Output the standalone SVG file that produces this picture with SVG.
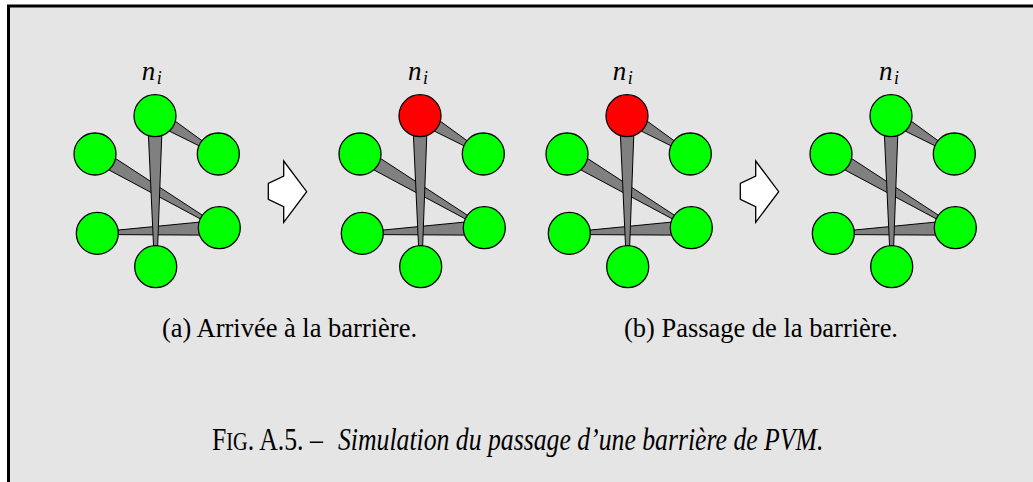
<svg xmlns="http://www.w3.org/2000/svg" xmlns:xlink="http://www.w3.org/1999/xlink" width="1033" height="482" viewBox="0 0 1033 482">
<style>
.edge{fill:#808080;stroke:#000;stroke-width:1;stroke-linejoin:round}
.node circle{stroke:#000;stroke-width:1.3}
.ok{fill:#00ff00}
.wait{fill:#ff0000}
.step{fill:#fff;stroke:#000;stroke-width:1.3;stroke-linejoin:miter}
.lbl{font-family:"Liberation Serif",serif;font-style:italic;font-size:27px;fill:#000}
.sub{font-family:"Liberation Serif",serif;font-size:27px;fill:#000}
.cap{font-family:"Liberation Serif",serif;font-size:31px;fill:#000}
</style>
<defs>
<g id="wedges">
<polygon class="edge" points="151.12,122.12 217.68,155.03 218.92,152.97 158.88,109.28"/>
<polygon class="edge" points="91.18,160.45 218.69,228.73 219.91,226.67 98.83,147.55"/>
<polygon class="edge" points="218.96,220.21 97.24,232.10 97.36,234.50 219.64,235.19"/>
<polygon class="edge" points="147.5,115.73 154.5,266.71 156.9,266.69 162.5,115.67"/>
</g>
</defs>
<rect x="0" y="0" width="1033" height="482" fill="#fff"/>
<rect x="8.5" y="6" width="1100" height="600" fill="#e5e5e5" stroke="#000" stroke-width="3"/>

<g id="connectors">
<use xlink:href="#wedges" href="#wedges"/>
<use xlink:href="#wedges" href="#wedges" transform="translate(265,0)"/>
<use xlink:href="#wedges" href="#wedges" transform="translate(472,0)"/>
<use xlink:href="#wedges" href="#wedges" transform="translate(736,0)"/>
</g>

<g id="graph-1">
<g id="a1-ni" class="node"><circle class="ok" cx="155" cy="115.7" r="21"/></g>
<g id="a1-ur" class="node"><circle class="ok" cx="218.3" cy="154" r="21"/></g>
<g id="a1-l" class="node"><circle class="ok" cx="95" cy="154" r="21"/></g>
<g id="a1-lr" class="node"><circle class="ok" cx="219.3" cy="227.7" r="21"/></g>
<g id="a1-ll" class="node"><circle class="ok" cx="97.3" cy="233.3" r="21"/></g>
<g id="a1-b" class="node"><circle class="ok" cx="155.7" cy="266.7" r="21"/></g>
</g>
<g id="graph-2" transform="translate(265,0)">
<g id="a2-ni" class="node"><circle class="wait" cx="155" cy="115.7" r="21"/></g>
<g id="a2-ur" class="node"><circle class="ok" cx="218.3" cy="154" r="21"/></g>
<g id="a2-l" class="node"><circle class="ok" cx="95" cy="154" r="21"/></g>
<g id="a2-lr" class="node"><circle class="ok" cx="219.3" cy="227.7" r="21"/></g>
<g id="a2-ll" class="node"><circle class="ok" cx="97.3" cy="233.3" r="21"/></g>
<g id="a2-b" class="node"><circle class="ok" cx="155.7" cy="266.7" r="21"/></g>
</g>
<g id="graph-3" transform="translate(472,0)">
<g id="b1-ni" class="node"><circle class="wait" cx="155" cy="115.7" r="21"/></g>
<g id="b1-ur" class="node"><circle class="ok" cx="218.3" cy="154" r="21"/></g>
<g id="b1-l" class="node"><circle class="ok" cx="95" cy="154" r="21"/></g>
<g id="b1-lr" class="node"><circle class="ok" cx="219.3" cy="227.7" r="21"/></g>
<g id="b1-ll" class="node"><circle class="ok" cx="97.3" cy="233.3" r="21"/></g>
<g id="b1-b" class="node"><circle class="ok" cx="155.7" cy="266.7" r="21"/></g>
</g>
<g id="graph-4" transform="translate(736,0)">
<g id="b2-ni" class="node"><circle class="ok" cx="155" cy="115.7" r="21"/></g>
<g id="b2-ur" class="node"><circle class="ok" cx="218.3" cy="154" r="21"/></g>
<g id="b2-l" class="node"><circle class="ok" cx="95" cy="154" r="21"/></g>
<g id="b2-lr" class="node"><circle class="ok" cx="219.3" cy="227.7" r="21"/></g>
<g id="b2-ll" class="node"><circle class="ok" cx="97.3" cy="233.3" r="21"/></g>
<g id="b2-b" class="node"><circle class="ok" cx="155.7" cy="266.7" r="21"/></g>
</g>

<g id="step-arrows">
<polygon class="step" points="283.7,161 306.7,191.7 283.7,222.3 283.7,206.7 268.3,199.3 268.3,183.3 283.7,176"/>
<polygon class="step" points="755.7,161 778.7,191.7 755.7,222.3 755.7,206.7 740.3,199.3 740.3,183.3 755.7,176"/>
</g>

<g id="labels">
<text class="lbl" x="141.7" y="80">n<tspan font-size="18" dx="1.5" dy="3.5">i</tspan></text>
<text class="lbl" x="408" y="80">n<tspan font-size="18" dx="1.5" dy="3.5">i</tspan></text>
<text class="lbl" x="612.7" y="80">n<tspan font-size="18" dx="1.5" dy="3.5">i</tspan></text>
<text class="lbl" x="879" y="80">n<tspan font-size="18" dx="1.5" dy="3.5">i</tspan></text>
</g>

<g id="captions">
<text class="sub" x="162" y="337" textLength="255" lengthAdjust="spacingAndGlyphs">(a) Arrivée à la barrière.</text>
<text class="sub" x="624" y="337" textLength="274" lengthAdjust="spacingAndGlyphs">(b) Passage de la barrière.</text>
<text class="cap" transform="translate(212,450) scale(0.83,1)" x="0" y="0">F<tspan font-size="24.5">IG</tspan>. A.5. –<tspan x="151.8" font-style="italic">Simulation du passage d’une barrière de PVM.</tspan></text>
</g>
</svg>
